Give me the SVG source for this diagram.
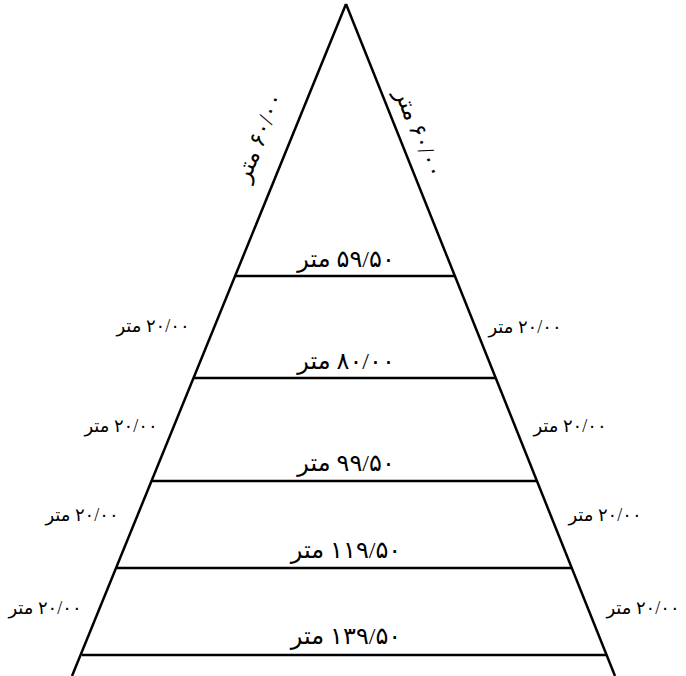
<svg xmlns="http://www.w3.org/2000/svg" width="686" height="676" viewBox="0 0 686 676">
<style>
.edge{stroke:#000;stroke-width:2.5;fill:none;stroke-linecap:butt}
text{font-family:"Liberation Serif","DejaVu Sans",serif;fill:#000;direction:rtl;text-anchor:middle}
.big{font-size:24px}
.small{font-size:18px}
.slant{font-size:23px}
</style>
<rect width="686" height="676" fill="#fff"/>
<g id="connectors">
<line class="edge" x1="346" y1="4" x2="72" y2="676"/>
<line class="edge" x1="346" y1="4" x2="615" y2="676"/>
<line class="edge" x1="236" y1="276" x2="455" y2="276"/>
<line class="edge" x1="194" y1="378" x2="495" y2="378"/>
<line class="edge" x1="152" y1="481" x2="537" y2="481"/>
<line class="edge" x1="117" y1="568" x2="572" y2="568"/>
<line class="edge" x1="82" y1="655" x2="607" y2="655"/>
</g>
<g id="widths">
<text class="big" x="346" y="267">۵۹/۵۰ متر</text>
<text class="big" x="346" y="369">۸۰/۰۰ متر</text>
<text class="big" x="346" y="471">۹۹/۵۰ متر</text>
<text class="big" x="346" y="558">۱۱۹/۵۰ متر</text>
<text class="big" x="346" y="644">۱۳۹/۵۰ متر</text>
</g>
<g id="left-labels">
<text class="small" x="153" y="332">۲۰/۰۰ متر</text>
<text class="small" x="121" y="432">۲۰/۰۰ متر</text>
<text class="small" x="82" y="521">۲۰/۰۰ متر</text>
<text class="small" x="45" y="614">۲۰/۰۰ متر</text>
</g>
<g id="right-labels">
<text class="small" x="525" y="333">۲۰/۰۰ متر</text>
<text class="small" x="570" y="432">۲۰/۰۰ متر</text>
<text class="small" x="605" y="521">۲۰/۰۰ متر</text>
<text class="small" x="643" y="614">۲۰/۰۰ متر</text>
</g>
<g id="slant-labels">
<text class="slant" transform="translate(266,140) rotate(-68)">۶۰/۰۰ متر</text>
<text class="slant" transform="translate(412,136) rotate(68)">۶۰/۰۰ متر</text>
</g>
</svg>
